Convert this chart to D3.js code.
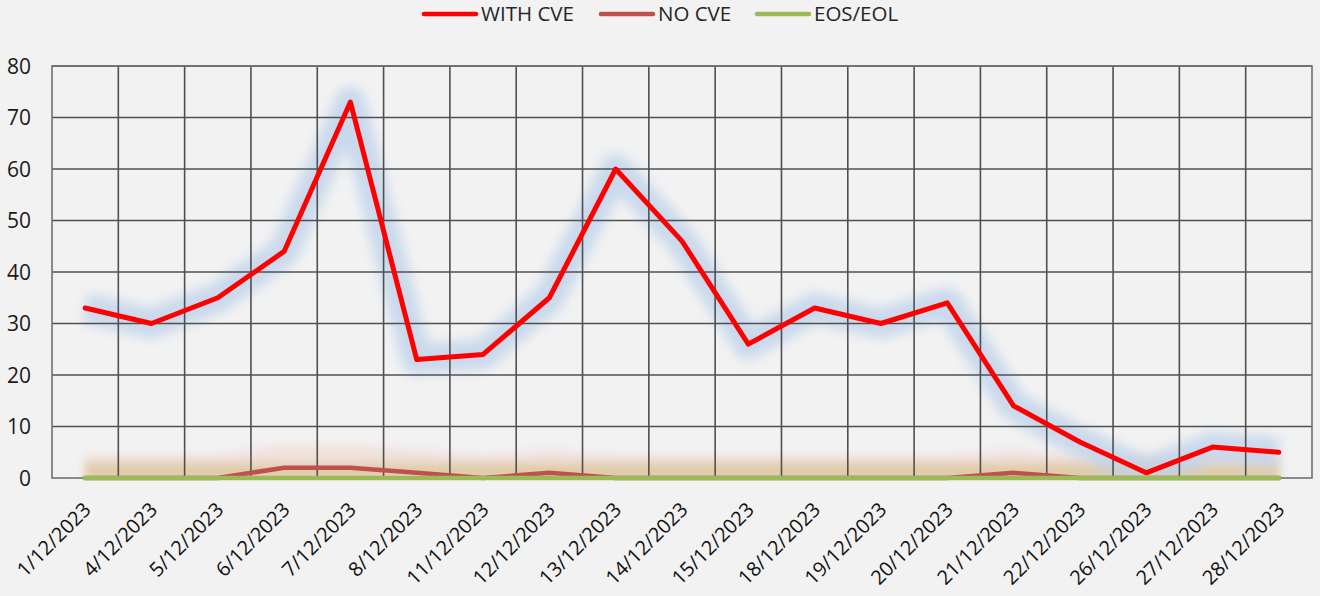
<!DOCTYPE html>
<html><head><meta charset="utf-8">
<script src="https://cdn.jsdelivr.net/npm/d3@7"></script>
<style>
html,body{margin:0;padding:0;background:#f2f2f2;}
svg{display:block;font-family:"Open Sans","Noto Sans",sans-serif;}
</style></head>
<body><svg id="c" width="1320" height="596"></svg>
<script>
const categories = ["1/12/2023","4/12/2023","5/12/2023","6/12/2023","7/12/2023","8/12/2023","11/12/2023","12/12/2023","13/12/2023","14/12/2023","15/12/2023","18/12/2023","19/12/2023","20/12/2023","21/12/2023","22/12/2023","26/12/2023","27/12/2023","28/12/2023"];
const withCve = [33,30,35,44,73,23,24,35,60,46,26,33,30,34,14,7,1,6,5];
const noCve = [0,0,0,2,2,1,0,1,0,0,0,0,0,0,1,0,0,0,0];
const eosEol = [0,0,0,0,0,0,0,0,0,0,0,0,0,0,0,0,0,0,0];
const yTicks = [0,10,20,30,40,50,60,70,80];
const seriesNames = ["WITH CVE","NO CVE","EOS/EOL"];

const svg = d3.select("#c");
const L=52, R=1312, T=66, B=478;
const x = d3.scaleBand().domain(categories).range([L,R]);
const y = d3.scaleLinear().domain([0,80]).range([B,T]);
const cx = d => x(d)+x.bandwidth()/2;

const defs = svg.append("defs");
defs.append("filter").attr("id","glow").attr("filterUnits","userSpaceOnUse")
  .attr("x",0).attr("y",0).attr("width",1320).attr("height",596)
  .append("feGaussianBlur").attr("stdDeviation",6);
defs.append("filter").attr("id","glow2").attr("filterUnits","userSpaceOnUse")
  .attr("x",0).attr("y",0).attr("width",1320).attr("height",596)
  .append("feGaussianBlur").attr("stdDeviation",5);
defs.append("clipPath").attr("id","pa").append("rect")
  .attr("x",0).attr("y",0).attr("width",1320).attr("height",B+1);

const line = d3.line().x((d,i)=>cx(categories[i])).y(d=>y(d));

// glows (behind gridlines)
const glowG = svg.append("g").attr("clip-path","url(#pa)");
glowG.append("path").datum(noCve).attr("d",line).attr("fill","none")
  .attr("stroke","#f0d0c8").attr("stroke-width",22).attr("stroke-linejoin","round")
  .attr("opacity",0.5).attr("filter","url(#glow2)").attr("transform","translate(0,-12)");
glowG.append("path").datum(eosEol).attr("d",line).attr("fill","none")
  .attr("stroke","#e0cba9").attr("stroke-width",18).attr("stroke-linejoin","round")
  .attr("opacity",1).attr("filter","url(#glow2)").attr("transform","translate(0,-6)");
glowG.append("path").datum(withCve).attr("d",line).attr("fill","none")
  .attr("stroke","#bfd3eb").attr("stroke-width",30).attr("stroke-linejoin","round")
  .attr("opacity",0.8).attr("filter","url(#glow)");

// gridlines
const g = svg.append("g");
g.selectAll("line.h").data(yTicks.slice(1)).join("line")
  .attr("x1",L).attr("x2",R).attr("y1",d=>y(d)).attr("y2",d=>y(d))
  .attr("stroke","#505050").attr("stroke-width",1.6);
const bounds = categories.slice(1).map(c=>x(c));
g.selectAll("line.v").data(bounds).join("line")
  .attr("x1",d=>d).attr("x2",d=>d).attr("y1",T).attr("y2",B)
  .attr("stroke","#505050").attr("stroke-width",1.6);
svg.append("rect").attr("x",L).attr("y",T).attr("width",R-L).attr("height",B-T)
  .attr("fill","none").attr("stroke","#707070").attr("stroke-width",1.6);

// y labels
svg.append("g").selectAll("text").data(yTicks).join("text")
  .attr("x",31).attr("y",d=>y(d)).attr("dy","0.36em").attr("text-anchor","end")
  .attr("font-size",21).attr("fill","#1a1a1a").text(d=>d);

// x labels
svg.append("g").selectAll("text").data(categories).join("text")
  .attr("text-anchor","end")
  .attr("transform",d=>`translate(${cx(d)+7},${511}) rotate(-45)`)
  .attr("font-size",20).attr("fill","#111").text(d=>d);

const colors = ["#ff0000","#c0504d","#9bbb59"];
[withCve,noCve,eosEol].forEach((s,k)=>{
  svg.append("path").datum(s).attr("d",line).attr("fill","none")
    .attr("stroke",colors[k]).attr("stroke-width",k===0?5:4.5).attr("stroke-linejoin","round")
    .attr("stroke-linecap",k===2?"square":"round");
});

// legend
const legX = [424,601,757];
const lg = svg.append("g");
seriesNames.forEach((n,i)=>{
  lg.append("line").attr("x1",legX[i]).attr("x2",legX[i]+52).attr("y1",14).attr("y2",14)
    .attr("stroke",colors[i]).attr("stroke-width",4.5).attr("stroke-linecap","round");
  lg.append("text").attr("x",legX[i]+57).attr("y",14).attr("dy","0.36em")
    .attr("font-size",20.5).attr("fill","#262626").text(n);
});
</script></body></html>
